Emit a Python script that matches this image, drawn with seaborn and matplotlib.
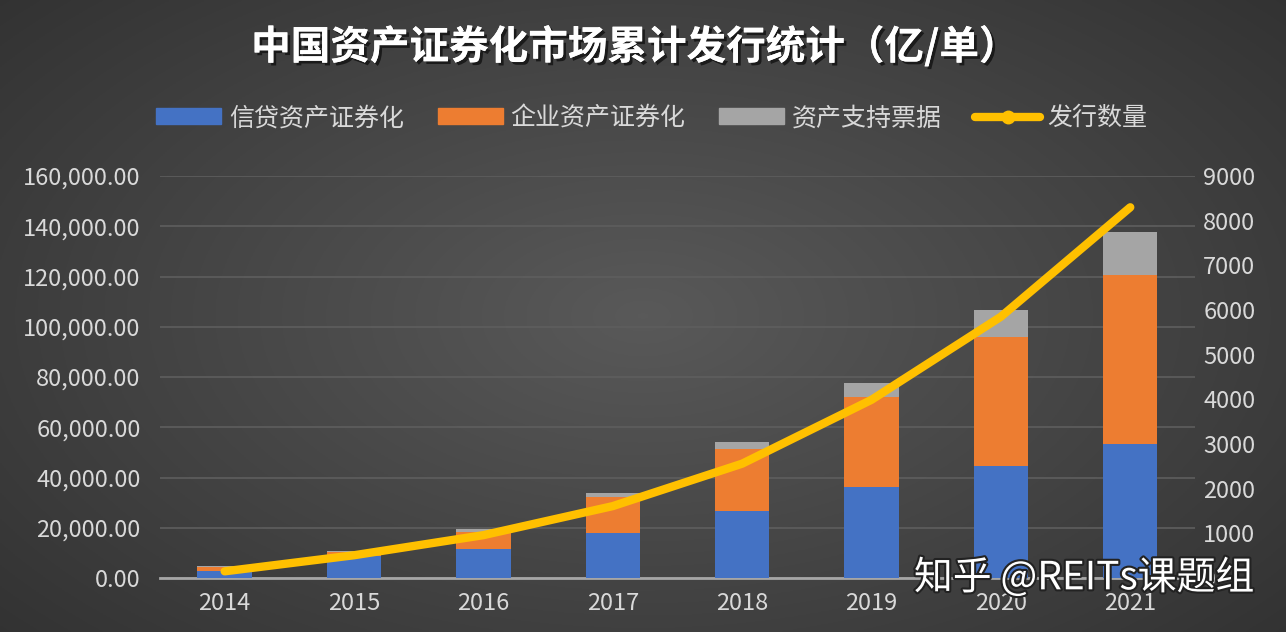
import matplotlib
matplotlib.use("Agg")
import matplotlib.pyplot as plt
import matplotlib.patheffects as pe
from matplotlib.lines import Line2D
from matplotlib.patches import Patch
import numpy as np
import pandas as pd
import seaborn as sns

# cumulative issuance (亿) and deal count (单)
years = ["2014", "2015", "2016", "2017", "2018", "2019", "2020", "2021"]
credit_abs = [2900, 8600, 11400, 17800, 26700, 36300, 44600, 53300]
corp_abs = [1300, 1700, 7000, 14600, 24500, 35900, 51400, 67300]
abn = [600, 400, 1100, 1300, 3100, 5300, 10700, 17100]
deal_count = [150, 510, 960, 1610, 2560, 3990, 5850, 8300]

series_names = ["信贷资产证券化", "企业资产证券化", "资产支持票据"]
line_name = "发行数量"
colors = ["#4472C4", "#ED7D31", "#A5A5A5"]
line_color = "#FFC000"
text_color = "#D9D9D9"

sns.set_theme(style="dark")
plt.rcParams["font.family"] = ["Noto Sans CJK SC", "DejaVu Sans"]
plt.rcParams["axes.unicode_minus"] = False

df = pd.DataFrame({"year": years, "credit": credit_abs, "corp": corp_abs, "abn": abn})
df["s1"] = df["credit"]
df["s2"] = df["s1"] + df["corp"]
df["s3"] = df["s2"] + df["abn"]

fig = plt.figure(figsize=(12.86, 6.32), dpi=100)

# dark radial background
bg = fig.add_axes([0, 0, 1, 1], zorder=-10)
yy, xx = np.mgrid[0:1:300j, 0:1:600j]
r = np.sqrt(((xx - 0.5) / 0.75) ** 2 + ((yy - 0.5) / 0.85) ** 2)
shade = np.clip(0.35 - 0.17 * r, 0.15, 0.36)
bg.imshow(np.dstack([shade] * 3), aspect="auto", extent=[0, 1, 0, 1])
bg.axis("off")

ax = fig.add_axes([0.1244, 0.0854, 0.8048, 0.6361])
ax.set_facecolor("none")

for col, c in zip(["s3", "s2", "s1"], [colors[2], colors[1], colors[0]]):
    sns.barplot(data=df, x="year", y=col, color=c, width=0.42, saturation=1,
                linewidth=0, edgecolor="none", ax=ax, zorder=3)

ax.set_ylim(0, 160000)
ax.set_xlim(-0.5, 7.5)
ax.set_yticks(np.arange(0, 160001, 20000))
ax.set_yticklabels([f"{v:,.2f}" for v in np.arange(0, 160001, 20000)])
ax.set_xlabel("")
ax.set_ylabel("")
ax.grid(axis="y", color="#5E5E5E", linewidth=1.2, zorder=0)
ax.grid(axis="x", visible=False)
for s in ["top", "right", "left"]:
    ax.spines[s].set_visible(False)
ax.spines["bottom"].set_color("#A6A6A6")
ax.spines["bottom"].set_linewidth(2)
ax.tick_params(axis="y", colors=text_color, labelsize=17, length=0, pad=14)
ax.tick_params(axis="x", colors=text_color, labelsize=17, length=0, pad=10)

ax2 = ax.twinx()
sns.lineplot(x=np.arange(len(years)), y=deal_count, color=line_color,
             linewidth=6, ax=ax2, zorder=5, solid_capstyle="round")
ax2.set_ylim(0, 9000)
ax2.set_yticks(np.arange(0, 9001, 1000))
ax2.tick_params(axis="y", colors=text_color, labelsize=17, length=0, pad=6)
for s in ax2.spines.values():
    s.set_visible(False)
ax2.grid(False)
ax2.set_ylabel("")

shadow = [pe.withSimplePatchShadow(offset=(2, -2), shadow_rgbFace="#111111", alpha=0.8),
          pe.Normal()]
fig.text(0.494, 0.925, "中国资产证券化市场累计发行统计（亿/单）", ha="center", va="center",
         fontsize=28.5, fontweight="bold", color="white", path_effects=shadow)

handles = [Patch(color=c) for c in colors] + [
    Line2D([0], [0], color=line_color, linewidth=6, marker="o", markersize=9)]
leg = fig.legend(handles, series_names + [line_name], loc="center",
                 bbox_to_anchor=(0.507, 0.813), ncol=4, frameon=False,
                 fontsize=18, handlelength=2.6, handleheight=0.6,
                 columnspacing=1.35, handletextpad=0.3)
for t in leg.get_texts():
    t.set_color(text_color)

fig.text(0.843, 0.085, "知乎 @REITs课题组", ha="center", va="center",
         fontsize=28, color="white", zorder=10,
         path_effects=[pe.withStroke(linewidth=3, foreground="#222222")])

fig.savefig("out.png", dpi=100)
